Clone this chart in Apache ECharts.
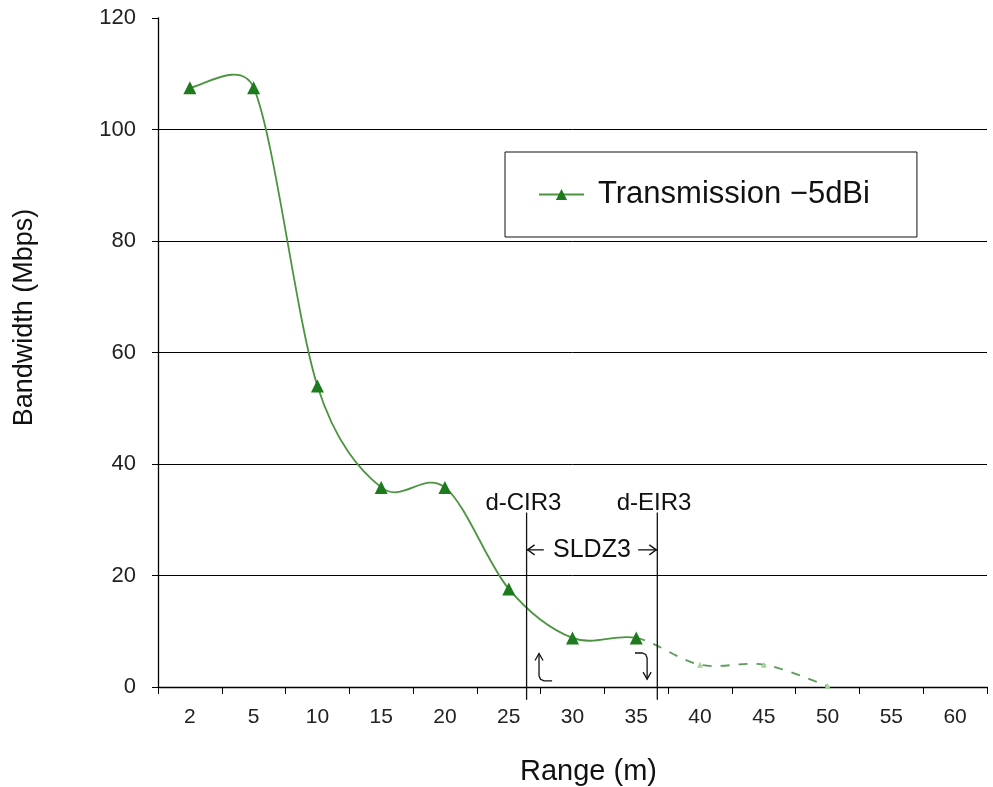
<!DOCTYPE html>
<html>
<head>
<meta charset="utf-8">
<script src="https://cdn.jsdelivr.net/npm/echarts@6/dist/echarts.min.js"></script>
<style>html,body{margin:0;padding:0;background:#fff;}#c{width:993px;height:787px;}</style>
</head>
<body>
<div id="c"></div>
<script>
const categories = ['2','5','10','15','20','25','30','35','40','45','50','55','60'];
const bandwidth = [107.5,107.5,54,35.8,35.8,17.6,8.8,8.8,4,4,0.2];
const dashedFromIndex = 7;   // the curve is dashed from the 35 m point on
const yTicks = [0,20,40,60,80,100,120];
const seriesName = 'Transmission \u22125dBi';
// annotation positions in category-index units (category centres are integers)
const cirX = 5.28, eirX = 7.33;
const markerTopY = 31.3, markerBottomY = -2.3;

const solidMarkers = categories.map((c,i)=> i<=dashedFromIndex && i<bandwidth.length ? bandwidth[i] : null);
const fadedMarkers = categories.map((c,i)=> i>dashedFromIndex && i<bandwidth.length ? bandwidth[i] : null);

const FONT = '"Liberation Sans", Arial, sans-serif';
const chart = echarts.init(document.getElementById('c'), null, {renderer:'canvas'});

function dist(a,b){ return Math.hypot(b[0]-a[0], b[1]-a[1]); }
// Excel-like smoothed curve (cubic Bezier, tension 1/6 clamped to half the segment) through the axes' coordinates
function curvePath(api, from, to){
  const P = bandwidth.map((v,i)=>api.coord([i, v]));
  const n = P.length;
  const get = k => P[Math.max(0, Math.min(n-1, k))];
  let d = 'M' + P[from][0] + ' ' + P[from][1];
  for (let i=from; i<to; i++){
    const p0 = get(i-1), p1 = get(i), p2 = get(i+1), p3 = get(i+2);
    const d12 = dist(p1,p2), d02 = dist(p0,p2), d13 = dist(p1,p3);
    const f1 = (d02/6 < d12/2) ? 1/6 : d12/(2*d02);
    const f2 = (d13/6 < d12/2) ? 1/6 : d12/(2*d13);
    const c1 = [p1[0] + (p2[0]-p0[0])*f1, p1[1] + (p2[1]-p0[1])*f1];
    const c2 = [p2[0] - (p3[0]-p1[0])*f2, p2[1] - (p3[1]-p1[1])*f2];
    d += ' C' + c1[0] + ' ' + c1[1] + ' ' + c2[0] + ' ' + c2[1] + ' ' + p2[0] + ' ' + p2[1];
  }
  return d;
}

const option = {
  backgroundColor:'#fff',
  animation:false,
  grid:{left:158, right:6, top:18, bottom:100, outerBoundsMode:'none', containLabel:false},
  legend:{
    data:[seriesName],
    left:505, top:152,
    orient:'horizontal',
    borderColor:'#111', borderWidth:1,
    padding:[27,47,27,33],
    itemWidth:45, itemHeight:14,
    lineStyle:{color:'#4c9440', width:2, opacity:1},
    textStyle:{fontSize:31, color:'#111', fontFamily:FONT, padding:[0,0,0,9]}
  },
  xAxis:[{
    type:'category', data:categories, boundaryGap:true,
    axisLine:{onZero:false, lineStyle:{color:'#000', width:1.3}},
    axisTick:{show:true, length:7, lineStyle:{color:'#000'}},
    axisLabel:{fontSize:21, color:'#222', fontFamily:FONT, margin:20},
    name:'Range (m)', nameLocation:'middle', nameGap:70,
    nameTextStyle:{fontSize:29, color:'#111', fontFamily:FONT, padding:[0,0,0,32]}
  },{
    type:'value', min:-0.5, max:12.5, show:false
  }],
  yAxis:{
    type:'value', min:0, max:120, interval:20,
    axisLine:{show:true, onZero:false, lineStyle:{color:'#000', width:1.3}},
    axisTick:{show:true, length:6, lineStyle:{color:'#000'}},
    axisLabel:{fontSize:22, color:'#222', fontFamily:FONT, margin:22},
    splitLine:{show:true, lineStyle:{color:['#000','#000','#000','#000','#000','#000','rgba(0,0,0,0)'], width:1}},
    name:'Bandwidth (Mbps)', nameLocation:'middle', nameGap:120,
    nameTextStyle:{fontSize:27, color:'#111', fontFamily:FONT, padding:[0,0,0,70]}
  },
  series:[{
    name:'curve', type:'custom', xAxisIndex:0, yAxisIndex:0,
    data:[[0,0]], silent:true, z:2,
    renderItem:function(params, api){
      return {type:'group', children:[
        {type:'path', shape:{pathData:curvePath(api, 0, dashedFromIndex)},
         style:{stroke:'#4c9440', lineWidth:1.8, fill:null}},
        {type:'path', shape:{pathData:curvePath(api, dashedFromIndex, bandwidth.length-1)},
         style:{stroke:'#5a9c5a', lineWidth:1.8, fill:null, lineDash:[9,9]}}
      ]};
    }
  },{
    name:seriesName, type:'line', data:solidMarkers,
    symbol:'triangle', symbolSize:13, showAllSymbol:true,
    itemStyle:{color:'#1d7a1d'},
    lineStyle:{width:0, opacity:0}, z:3
  },{
    name:'faded', type:'line', data:fadedMarkers,
    symbol:'triangle', symbolSize:6, showAllSymbol:true,
    itemStyle:{color:'#a6d39a'},
    lineStyle:{width:0, opacity:0}, z:3
  }]
};
chart.setOption(option);

function px(x,y){ return chart.convertToPixel({xAxisIndex:1, yAxisIndex:0},[x,y]); }
const g = [];
const ls = {stroke:'#111', lineWidth:1.3, fill:null};
function vline(x){
  const a = px(x, markerTopY), b = px(x, markerBottomY);
  g.push({type:'line', shape:{x1:a[0],y1:a[1],x2:b[0],y2:b[1]}, style:ls, z:10});
}
function text(x,y,str,size){
  const p = px(x,y);
  g.push({type:'text', x:p[0], y:p[1], style:{text:str, fontSize:size, fontFamily:FONT, fill:'#111', align:'center', verticalAlign:'middle'}, z:10});
}
vline(cirX); vline(eirX);
text(cirX-0.05, 33.0, 'd-CIR3', 24);
text(eirX-0.05, 33.0, 'd-EIR3', 24);
text((cirX+eirX)/2, 24.6, 'SLDZ3', 25);
(function(){
  const y = 24.6;
  const l1 = px(cirX, y), l2 = px(cirX+0.27, y);
  g.push({type:'line', shape:{x1:l1[0],y1:l1[1],x2:l2[0],y2:l2[1]}, style:ls, z:10});
  g.push({type:'polyline', shape:{points:[[l1[0]+8,l1[1]-5],[l1[0]+1,l1[1]],[l1[0]+8,l1[1]+5]]}, style:ls, z:10});
  const r1 = px(eirX-0.3, y), r2 = px(eirX, y);
  g.push({type:'line', shape:{x1:r1[0],y1:r1[1],x2:r2[0],y2:r2[1]}, style:ls, z:10});
  g.push({type:'polyline', shape:{points:[[r2[0]-8,r2[1]-5],[r2[0]-1,r2[1]],[r2[0]-8,r2[1]+5]]}, style:ls, z:10});
})();
(function(){
  const a = px(5.475, 6.0), b = px(5.475, 2.0), c = px(5.68, 1.1);
  g.push({type:'polyline', shape:{points:[a, b, [b[0]+1.5, b[1]+3.5], [b[0]+5, c[1]], c]}, style:ls, z:10});
  g.push({type:'polyline', shape:{points:[[a[0]-4,a[1]+7],[a[0],a[1]],[a[0]+4,a[1]+7]]}, style:ls, z:10});
  const d = px(6.98, 6.1), e = px(7.17, 4.6), f = px(7.17, 1.4);
  g.push({type:'polyline', shape:{points:[d, [e[0]-5, d[1]], [e[0]-1.5, d[1]+1.5], [e[0], d[1]+5], f]}, style:ls, z:10});
  g.push({type:'polyline', shape:{points:[[f[0]-4,f[1]-7],[f[0],f[1]],[f[0]+4,f[1]-7]]}, style:ls, z:10});
})();
chart.setOption({graphic:{elements:g}});
</script>
</body>
</html>
